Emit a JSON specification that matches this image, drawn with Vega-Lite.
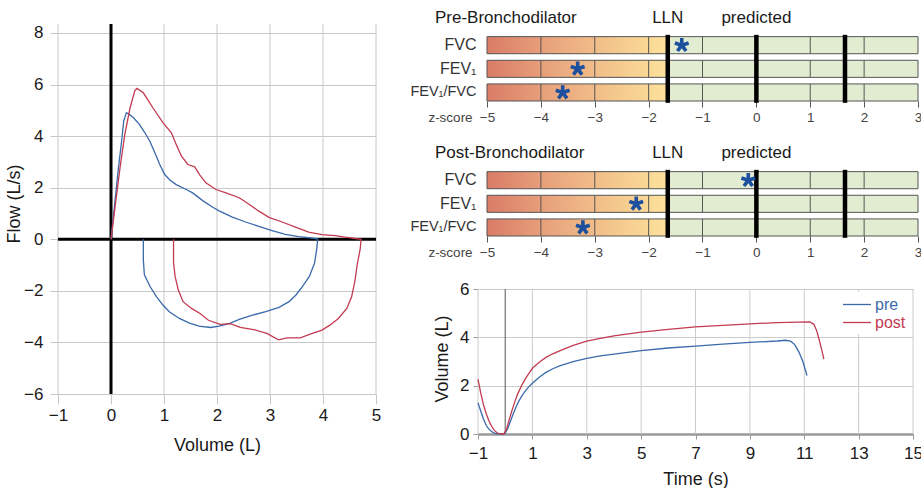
{
  "$schema": "https://vega.github.io/schema/vega-lite/v6.json",
  "padding": {"left": 5, "top": 9, "right": 0, "bottom": 0},
  "config": {"font": "Liberation Sans", "view": {"stroke": null}, "axis": {"labelFlush": false}},
  "bounds": "flush",
  "spacing": 102,
  "resolve": {"scale": {"color": "independent"}},
  "datasets": {
    "fvgrid": [{"v": -1}, {"v": 0}, {"v": 1}, {"v": 2}, {"v": 3}, {"v": 4}, {"v": 5}],
    "tgrid": [{"v": -1}, {"v": 1}, {"v": 3}, {"v": 5}, {"v": 7}, {"v": 9}, {"v": 11}, {"v": 13}, {"v": 15}],
    "zero": [{"v": 0}],
    "fv": [
      {"s": "pre", "i": 1, "vol": 0, "f": 0},
      {"s": "pre", "i": 2, "vol": 0.075, "f": 1.48},
      {"s": "pre", "i": 3, "vol": 0.14, "f": 2.77},
      {"s": "pre", "i": 4, "vol": 0.2, "f": 3.8},
      {"s": "pre", "i": 5, "vol": 0.24, "f": 4.58},
      {"s": "pre", "i": 6, "vol": 0.29, "f": 4.9},
      {"s": "pre", "i": 7, "vol": 0.33, "f": 4.87},
      {"s": "pre", "i": 8, "vol": 0.42, "f": 4.72},
      {"s": "pre", "i": 9, "vol": 0.54, "f": 4.45},
      {"s": "pre", "i": 10, "vol": 0.64, "f": 4.13},
      {"s": "pre", "i": 11, "vol": 0.73, "f": 3.81},
      {"s": "pre", "i": 12, "vol": 0.83, "f": 3.35},
      {"s": "pre", "i": 13, "vol": 0.92, "f": 2.9},
      {"s": "pre", "i": 14, "vol": 1.01, "f": 2.52},
      {"s": "pre", "i": 15, "vol": 1.11, "f": 2.3},
      {"s": "pre", "i": 16, "vol": 1.23, "f": 2.12},
      {"s": "pre", "i": 17, "vol": 1.42, "f": 1.93},
      {"s": "pre", "i": 18, "vol": 1.54, "f": 1.8},
      {"s": "pre", "i": 19, "vol": 1.73, "f": 1.5},
      {"s": "pre", "i": 20, "vol": 1.92, "f": 1.24},
      {"s": "pre", "i": 21, "vol": 2.04, "f": 1.1},
      {"s": "pre", "i": 22, "vol": 2.29, "f": 0.86},
      {"s": "pre", "i": 23, "vol": 2.54, "f": 0.67},
      {"s": "pre", "i": 24, "vol": 2.79, "f": 0.5},
      {"s": "pre", "i": 25, "vol": 3.04, "f": 0.34},
      {"s": "pre", "i": 26, "vol": 3.29, "f": 0.19},
      {"s": "pre", "i": 27, "vol": 3.54, "f": 0.1},
      {"s": "pre", "i": 28, "vol": 3.79, "f": 0.05},
      {"s": "pre", "i": 29, "vol": 3.89, "f": 0.02},
      {"s": "pre", "i": 30, "vol": 3.9, "f": 0},
      {"s": "pre", "i": 31, "vol": 3.88, "f": -0.4},
      {"s": "pre", "i": 32, "vol": 3.84, "f": -0.93},
      {"s": "pre", "i": 33, "vol": 3.74, "f": -1.45},
      {"s": "pre", "i": 34, "vol": 3.61, "f": -1.84},
      {"s": "pre", "i": 35, "vol": 3.49, "f": -2.16},
      {"s": "pre", "i": 36, "vol": 3.36, "f": -2.42},
      {"s": "pre", "i": 37, "vol": 3.17, "f": -2.64},
      {"s": "pre", "i": 38, "vol": 2.92, "f": -2.81},
      {"s": "pre", "i": 39, "vol": 2.67, "f": -2.94},
      {"s": "pre", "i": 40, "vol": 2.42, "f": -3.11},
      {"s": "pre", "i": 41, "vol": 2.23, "f": -3.27},
      {"s": "pre", "i": 42, "vol": 2.04, "f": -3.37},
      {"s": "pre", "i": 43, "vol": 1.88, "f": -3.42},
      {"s": "pre", "i": 44, "vol": 1.66, "f": -3.37},
      {"s": "pre", "i": 45, "vol": 1.47, "f": -3.24},
      {"s": "pre", "i": 46, "vol": 1.29, "f": -3.07},
      {"s": "pre", "i": 47, "vol": 1.1, "f": -2.81},
      {"s": "pre", "i": 48, "vol": 0.98, "f": -2.55},
      {"s": "pre", "i": 49, "vol": 0.86, "f": -2.23},
      {"s": "pre", "i": 50, "vol": 0.74, "f": -1.84},
      {"s": "pre", "i": 51, "vol": 0.63, "f": -1.38},
      {"s": "pre", "i": 52, "vol": 0.61, "f": -0.8},
      {"s": "pre", "i": 53, "vol": 0.61, "f": 0},
      {"s": "post", "i": 1, "vol": 0, "f": 0},
      {"s": "post", "i": 2, "vol": 0.075, "f": 1.22},
      {"s": "post", "i": 3, "vol": 0.17, "f": 2.77},
      {"s": "post", "i": 4, "vol": 0.26, "f": 4.06},
      {"s": "post", "i": 5, "vol": 0.36, "f": 5.1},
      {"s": "post", "i": 6, "vol": 0.45, "f": 5.77},
      {"s": "post", "i": 7, "vol": 0.49, "f": 5.85},
      {"s": "post", "i": 8, "vol": 0.61, "f": 5.68},
      {"s": "post", "i": 9, "vol": 0.79, "f": 5.1},
      {"s": "post", "i": 10, "vol": 0.98, "f": 4.52},
      {"s": "post", "i": 11, "vol": 1.14, "f": 4.13},
      {"s": "post", "i": 12, "vol": 1.23, "f": 3.68},
      {"s": "post", "i": 13, "vol": 1.33, "f": 3.22},
      {"s": "post", "i": 14, "vol": 1.45, "f": 2.9},
      {"s": "post", "i": 15, "vol": 1.58, "f": 2.81},
      {"s": "post", "i": 16, "vol": 1.67, "f": 2.51},
      {"s": "post", "i": 17, "vol": 1.79, "f": 2.19},
      {"s": "post", "i": 18, "vol": 1.98, "f": 1.93},
      {"s": "post", "i": 19, "vol": 2.17, "f": 1.8},
      {"s": "post", "i": 20, "vol": 2.42, "f": 1.61},
      {"s": "post", "i": 21, "vol": 2.61, "f": 1.35},
      {"s": "post", "i": 22, "vol": 2.79, "f": 1.09},
      {"s": "post", "i": 23, "vol": 2.98, "f": 0.85},
      {"s": "post", "i": 24, "vol": 3.23, "f": 0.67},
      {"s": "post", "i": 25, "vol": 3.48, "f": 0.47},
      {"s": "post", "i": 26, "vol": 3.73, "f": 0.28},
      {"s": "post", "i": 27, "vol": 3.98, "f": 0.18},
      {"s": "post", "i": 28, "vol": 4.23, "f": 0.14},
      {"s": "post", "i": 29, "vol": 4.42, "f": 0.08},
      {"s": "post", "i": 30, "vol": 4.61, "f": 0.03},
      {"s": "post", "i": 31, "vol": 4.72, "f": 0},
      {"s": "post", "i": 32, "vol": 4.7, "f": -0.4},
      {"s": "post", "i": 33, "vol": 4.65, "f": -0.93},
      {"s": "post", "i": 34, "vol": 4.6, "f": -1.64},
      {"s": "post", "i": 35, "vol": 4.54, "f": -2.23},
      {"s": "post", "i": 36, "vol": 4.45, "f": -2.68},
      {"s": "post", "i": 37, "vol": 4.29, "f": -3.07},
      {"s": "post", "i": 38, "vol": 4.13, "f": -3.33},
      {"s": "post", "i": 39, "vol": 3.98, "f": -3.52},
      {"s": "post", "i": 40, "vol": 3.76, "f": -3.68},
      {"s": "post", "i": 41, "vol": 3.57, "f": -3.82},
      {"s": "post", "i": 42, "vol": 3.32, "f": -3.82},
      {"s": "post", "i": 43, "vol": 3.16, "f": -3.9},
      {"s": "post", "i": 44, "vol": 2.94, "f": -3.65},
      {"s": "post", "i": 45, "vol": 2.69, "f": -3.5},
      {"s": "post", "i": 46, "vol": 2.44, "f": -3.42},
      {"s": "post", "i": 47, "vol": 2.25, "f": -3.27},
      {"s": "post", "i": 48, "vol": 2.06, "f": -3.3},
      {"s": "post", "i": 49, "vol": 1.84, "f": -3.14},
      {"s": "post", "i": 50, "vol": 1.68, "f": -2.88},
      {"s": "post", "i": 51, "vol": 1.52, "f": -2.68},
      {"s": "post", "i": 52, "vol": 1.36, "f": -2.42},
      {"s": "post", "i": 53, "vol": 1.27, "f": -1.97},
      {"s": "post", "i": 54, "vol": 1.21, "f": -1.45},
      {"s": "post", "i": 55, "vol": 1.18, "f": -0.9},
      {"s": "post", "i": 56, "vol": 1.18, "f": 0}
    ],
    "bars": [
      {"m": "FVC", "lo": -5, "mid": -1.645, "hi": 3},
      {"m": "FEV₁", "lo": -5, "mid": -1.645, "hi": 3},
      {"m": "FEV₁/FVC", "lo": -5, "mid": -1.645, "hi": 3}
    ],
    "zgrid": [
      {"m": "FVC", "z": -4}, {"m": "FVC", "z": -3}, {"m": "FVC", "z": -2}, {"m": "FVC", "z": -1}, {"m": "FVC", "z": 1}, {"m": "FVC", "z": 2},
      {"m": "FEV₁", "z": -4}, {"m": "FEV₁", "z": -3}, {"m": "FEV₁", "z": -2}, {"m": "FEV₁", "z": -1}, {"m": "FEV₁", "z": 1}, {"m": "FEV₁", "z": 2},
      {"m": "FEV₁/FVC", "z": -4}, {"m": "FEV₁/FVC", "z": -3}, {"m": "FEV₁/FVC", "z": -2}, {"m": "FEV₁/FVC", "z": -1}, {"m": "FEV₁/FVC", "z": 1}, {"m": "FEV₁/FVC", "z": 2}
    ],
    "thick": [{"z": -1.645}, {"z": 0}, {"z": 1.645}],
    "hdr": [{"lab": "LLN", "z": -1.645}, {"lab": "predicted", "z": 0}],
    "starsPre": [{"m": "FVC", "z": -1.385}, {"m": "FEV₁", "z": -3.317}, {"m": "FEV₁/FVC", "z": -3.595}],
    "starsPost": [{"m": "FVC", "z": -0.15}, {"m": "FEV₁", "z": -2.23}, {"m": "FEV₁/FVC", "z": -3.22}],
    "vt": [
      {"s": "pre", "i": 1, "t": -1, "v": 1.29},
      {"s": "pre", "i": 2, "t": -0.9, "v": 0.95},
      {"s": "pre", "i": 3, "t": -0.8, "v": 0.62},
      {"s": "pre", "i": 4, "t": -0.7, "v": 0.36},
      {"s": "pre", "i": 5, "t": -0.6, "v": 0.2},
      {"s": "pre", "i": 6, "t": -0.5, "v": 0.1},
      {"s": "pre", "i": 7, "t": -0.4, "v": 0.04},
      {"s": "pre", "i": 8, "t": -0.3, "v": 0.01},
      {"s": "pre", "i": 9, "t": -0.15, "v": 0},
      {"s": "pre", "i": 10, "t": 0, "v": 0.02},
      {"s": "pre", "i": 11, "t": 0.1, "v": 0.25},
      {"s": "pre", "i": 12, "t": 0.2, "v": 0.55},
      {"s": "pre", "i": 13, "t": 0.3, "v": 0.85},
      {"s": "pre", "i": 14, "t": 0.4, "v": 1.12},
      {"s": "pre", "i": 15, "t": 0.5, "v": 1.36},
      {"s": "pre", "i": 16, "t": 0.6, "v": 1.55},
      {"s": "pre", "i": 17, "t": 0.7, "v": 1.72},
      {"s": "pre", "i": 18, "t": 0.85, "v": 1.93},
      {"s": "pre", "i": 19, "t": 1.0, "v": 2.1},
      {"s": "pre", "i": 20, "t": 1.25, "v": 2.35},
      {"s": "pre", "i": 21, "t": 1.5, "v": 2.55},
      {"s": "pre", "i": 22, "t": 1.75, "v": 2.7},
      {"s": "pre", "i": 23, "t": 2.0, "v": 2.82},
      {"s": "pre", "i": 24, "t": 2.5, "v": 3.0},
      {"s": "pre", "i": 25, "t": 3.0, "v": 3.13},
      {"s": "pre", "i": 26, "t": 3.5, "v": 3.23},
      {"s": "pre", "i": 27, "t": 4.0, "v": 3.31},
      {"s": "pre", "i": 28, "t": 5.0, "v": 3.45},
      {"s": "pre", "i": 29, "t": 6.0, "v": 3.56},
      {"s": "pre", "i": 30, "t": 7.0, "v": 3.64},
      {"s": "pre", "i": 31, "t": 8.0, "v": 3.72},
      {"s": "pre", "i": 32, "t": 9.0, "v": 3.79},
      {"s": "pre", "i": 33, "t": 10.0, "v": 3.85},
      {"s": "pre", "i": 34, "t": 10.3, "v": 3.88},
      {"s": "pre", "i": 35, "t": 10.5, "v": 3.84},
      {"s": "pre", "i": 36, "t": 10.65, "v": 3.7},
      {"s": "pre", "i": 37, "t": 10.8, "v": 3.4},
      {"s": "pre", "i": 38, "t": 10.95, "v": 3.0},
      {"s": "pre", "i": 39, "t": 11.1, "v": 2.42},
      {"s": "post", "i": 1, "t": -1, "v": 2.26},
      {"s": "post", "i": 2, "t": -0.9, "v": 1.7},
      {"s": "post", "i": 3, "t": -0.8, "v": 1.22},
      {"s": "post", "i": 4, "t": -0.7, "v": 0.85},
      {"s": "post", "i": 5, "t": -0.6, "v": 0.55},
      {"s": "post", "i": 6, "t": -0.5, "v": 0.32},
      {"s": "post", "i": 7, "t": -0.4, "v": 0.15},
      {"s": "post", "i": 8, "t": -0.3, "v": 0.05},
      {"s": "post", "i": 9, "t": -0.2, "v": 0.01},
      {"s": "post", "i": 10, "t": -0.05, "v": 0},
      {"s": "post", "i": 11, "t": 0.05, "v": 0.2},
      {"s": "post", "i": 12, "t": 0.15, "v": 0.6},
      {"s": "post", "i": 13, "t": 0.25, "v": 0.98},
      {"s": "post", "i": 14, "t": 0.35, "v": 1.32},
      {"s": "post", "i": 15, "t": 0.45, "v": 1.63},
      {"s": "post", "i": 16, "t": 0.6, "v": 2.0},
      {"s": "post", "i": 17, "t": 0.75, "v": 2.3},
      {"s": "post", "i": 18, "t": 0.9, "v": 2.55},
      {"s": "post", "i": 19, "t": 1.0, "v": 2.72},
      {"s": "post", "i": 20, "t": 1.25, "v": 2.97},
      {"s": "post", "i": 21, "t": 1.5, "v": 3.17},
      {"s": "post", "i": 22, "t": 1.75, "v": 3.32},
      {"s": "post", "i": 23, "t": 2.0, "v": 3.44},
      {"s": "post", "i": 24, "t": 2.5, "v": 3.67},
      {"s": "post", "i": 25, "t": 3.0, "v": 3.84},
      {"s": "post", "i": 26, "t": 3.5, "v": 3.96},
      {"s": "post", "i": 27, "t": 4.0, "v": 4.06},
      {"s": "post", "i": 28, "t": 5.0, "v": 4.22},
      {"s": "post", "i": 29, "t": 6.0, "v": 4.33},
      {"s": "post", "i": 30, "t": 7.0, "v": 4.43},
      {"s": "post", "i": 31, "t": 8.0, "v": 4.5},
      {"s": "post", "i": 32, "t": 9.0, "v": 4.56},
      {"s": "post", "i": 33, "t": 10.0, "v": 4.61},
      {"s": "post", "i": 34, "t": 11.2, "v": 4.64},
      {"s": "post", "i": 35, "t": 11.35, "v": 4.55},
      {"s": "post", "i": 36, "t": 11.45, "v": 4.3},
      {"s": "post", "i": 37, "t": 11.55, "v": 3.9},
      {"s": "post", "i": 38, "t": 11.65, "v": 3.45},
      {"s": "post", "i": 39, "t": 11.72, "v": 3.1}
    ]
  },
  "hconcat": [
    {
      "width": 318,
      "height": 381,
      "layer": [
        {
          "data": {"name": "fvgrid"},
          "mark": {"type": "rule", "color": "#c8c8c8", "strokeWidth": 1},
          "encoding": {
            "x": {"field": "v", "type": "quantitative", "scale": {"domain": [-1, 5], "nice": false, "zero": false},
              "axis": {"values": [-1, 0, 1, 2, 3, 4, 5], "title": "Volume (L)", "grid": false, "domain": false, "tickColor": "#c8c8c8", "tickSize": 10, "labelPadding": 3, "labelFontSize": 17, "labelColor": "#1a1a1a", "titleFontSize": 18, "titleFontWeight": "normal", "titleColor": "#1a1a1a", "titlePadding": 13}},
            "y": {"datum": -6, "type": "quantitative", "scale": {"domain": [-6, 8.775], "nice": false, "zero": false},
              "axis": {"values": [-6, -4, -2, 0, 2, 4, 6, 8], "title": "Flow (L/s)", "grid": true, "gridColor": "#c8c8c8", "domain": false, "tickColor": "#c8c8c8", "tickSize": 8, "labelPadding": 7, "labelFontSize": 17, "labelColor": "#1a1a1a", "titleFontSize": 18, "titleFontWeight": "normal", "titleColor": "#1a1a1a", "titlePadding": 0}},
            "y2": {"datum": 8.35}
          }
        },
        {
          "data": {"name": "zero"},
          "mark": {"type": "rule", "color": "black", "strokeWidth": 3},
          "encoding": {"y": {"field": "v", "type": "quantitative"}}
        },
        {
          "data": {"name": "zero"},
          "mark": {"type": "rule", "color": "black", "strokeWidth": 3},
          "encoding": {"x": {"field": "v", "type": "quantitative"}, "y": {"datum": -6, "type": "quantitative"}, "y2": {"datum": 8.35}}
        },
        {
          "data": {"name": "fv"},
          "transform": [{"filter": "datum.s === 'pre'"}],
          "mark": {"type": "line", "stroke": "#3a6aab", "strokeWidth": 1.3},
          "encoding": {"x": {"field": "vol", "type": "quantitative"}, "y": {"field": "f", "type": "quantitative"}, "order": {"field": "i"}}
        },
        {
          "data": {"name": "fv"},
          "transform": [{"filter": "datum.s === 'post'"}],
          "mark": {"type": "line", "stroke": "#c23b50", "strokeWidth": 1.3},
          "encoding": {"x": {"field": "vol", "type": "quantitative"}, "y": {"field": "f", "type": "quantitative"}, "order": {"field": "i"}}
        }
      ]
    },
    {
      "bounds": "flush",
      "spacing": 47,
      "resolve": {"scale": {"color": "independent"}},
      "vconcat": [
        {
          "width": 440,
          "height": 88,
          "layer": [
            {
              "data": {"name": "bars"},
              "mark": {"type": "rect", "fill": {"gradient": "linear", "x1": 0, "x2": 1, "y1": 0, "y2": 0, "stops": [{"offset": 0, "color": "#d97c67"}, {"offset": 0.35, "color": "#e9a47d"}, {"offset": 0.75, "color": "#f5cc8f"}, {"offset": 1, "color": "#fde29c"}]}},
              "encoding": {
                "x": {"field": "lo", "type": "quantitative", "scale": {"domain": [-5.167, 3], "nice": false, "zero": false},
                  "axis": {"values": [-5, -4, -3, -2, -1, 0, 1, 2, 3], "domain": false, "grid": false, "tickSize": 6, "tickColor": "#555", "labelFontSize": 13.5, "labelColor": "#444", "labelPadding": 3, "title": "z-score", "titleX": -28, "titleY": 9, "titleAlign": "center", "titleBaseline": "top", "titleFontSize": 13.5, "titleFontWeight": "normal", "titleColor": "#444"}},
                "x2": {"field": "mid"},
                "y": {"field": "m", "type": "nominal", "scale": {"domain": ["hdr", "FVC", "FEV₁", "FEV₁/FVC"], "paddingInner": 0.277, "paddingOuter": 0},
                  "axis": {"title": null, "domain": false, "ticks": false, "labelPadding": 2, "labelFontSize": {"condition": {"test": "datum.value === 'FEV₁/FVC'", "value": 14.5}, "value": 16}, "labelColor": "#333", "labelExpr": "datum.value === 'hdr' ? '' : datum.value"}}
              }
            },
            {
              "data": {"name": "bars"},
              "mark": {"type": "rect", "fill": "#e2ecd0"},
              "encoding": {"x": {"field": "mid", "type": "quantitative"}, "x2": {"field": "hi"}, "y": {"field": "m", "type": "nominal"}}
            },
            {
              "data": {"name": "zgrid"},
              "mark": {"type": "tick", "color": "#555", "thickness": 1, "size": 17, "opacity": 1},
              "encoding": {"x": {"field": "z", "type": "quantitative"}, "y": {"field": "m", "type": "nominal"}}
            },
            {
              "data": {"name": "bars"},
              "mark": {"type": "rect", "fillOpacity": 0, "stroke": "#555", "strokeWidth": 1},
              "encoding": {"x": {"field": "lo", "type": "quantitative"}, "x2": {"field": "hi"}, "y": {"field": "m", "type": "nominal"}}
            },
            {
              "data": {"name": "thick"},
              "mark": {"type": "tick", "color": "black", "thickness": 4.5, "size": 68, "opacity": 1},
              "encoding": {"x": {"field": "z", "type": "quantitative"}, "y": {"datum": "FEV₁", "type": "nominal"}}
            },
            {
              "data": {"name": "starsPre"},
              "mark": {"type": "point", "shape": "M0,0L0,-1M0,0L0.951,-0.309M0,0L0.588,0.809M0,0L-0.588,0.809M0,0L-0.951,-0.309", "size": 210, "filled": false, "stroke": "#1c4f9e", "strokeWidth": 3.6, "opacity": 1},
              "encoding": {"x": {"field": "z", "type": "quantitative"}, "y": {"field": "m", "type": "nominal"}}
            },
            {
              "data": {"name": "hdr"},
              "mark": {"type": "text", "fontSize": 17, "color": "#1a1a1a", "align": "center", "baseline": "middle", "dy": -3.5},
              "encoding": {"x": {"field": "z", "type": "quantitative"}, "y": {"datum": "hdr", "type": "nominal"}, "text": {"field": "lab"}}
            },
            {
              "data": {"values": [{"lab": "Pre-Bronchodilator"}]},
              "mark": {"type": "text", "fontSize": 17, "color": "#1a1a1a", "align": "left", "baseline": "middle", "dy": -3.5, "dx": -52},
              "encoding": {"x": {"datum": -5, "type": "quantitative"}, "y": {"datum": "hdr", "type": "nominal"}, "text": {"field": "lab"}}
            }
          ]
        },
        {
          "width": 440,
          "height": 88,
          "layer": [
            {
              "data": {"name": "bars"},
              "mark": {"type": "rect", "fill": {"gradient": "linear", "x1": 0, "x2": 1, "y1": 0, "y2": 0, "stops": [{"offset": 0, "color": "#d97c67"}, {"offset": 0.35, "color": "#e9a47d"}, {"offset": 0.75, "color": "#f5cc8f"}, {"offset": 1, "color": "#fde29c"}]}},
              "encoding": {
                "x": {"field": "lo", "type": "quantitative", "scale": {"domain": [-5.167, 3], "nice": false, "zero": false},
                  "axis": {"values": [-5, -4, -3, -2, -1, 0, 1, 2, 3], "domain": false, "grid": false, "tickSize": 6, "tickColor": "#555", "labelFontSize": 13.5, "labelColor": "#444", "labelPadding": 3, "title": "z-score", "titleX": -28, "titleY": 9, "titleAlign": "center", "titleBaseline": "top", "titleFontSize": 13.5, "titleFontWeight": "normal", "titleColor": "#444"}},
                "x2": {"field": "mid"},
                "y": {"field": "m", "type": "nominal", "scale": {"domain": ["hdr", "FVC", "FEV₁", "FEV₁/FVC"], "paddingInner": 0.277, "paddingOuter": 0},
                  "axis": {"title": null, "domain": false, "ticks": false, "labelPadding": 2, "labelFontSize": {"condition": {"test": "datum.value === 'FEV₁/FVC'", "value": 14.5}, "value": 16}, "labelColor": "#333", "labelExpr": "datum.value === 'hdr' ? '' : datum.value"}}
              }
            },
            {
              "data": {"name": "bars"},
              "mark": {"type": "rect", "fill": "#e2ecd0"},
              "encoding": {"x": {"field": "mid", "type": "quantitative"}, "x2": {"field": "hi"}, "y": {"field": "m", "type": "nominal"}}
            },
            {
              "data": {"name": "zgrid"},
              "mark": {"type": "tick", "color": "#555", "thickness": 1, "size": 17, "opacity": 1},
              "encoding": {"x": {"field": "z", "type": "quantitative"}, "y": {"field": "m", "type": "nominal"}}
            },
            {
              "data": {"name": "bars"},
              "mark": {"type": "rect", "fillOpacity": 0, "stroke": "#555", "strokeWidth": 1},
              "encoding": {"x": {"field": "lo", "type": "quantitative"}, "x2": {"field": "hi"}, "y": {"field": "m", "type": "nominal"}}
            },
            {
              "data": {"name": "thick"},
              "mark": {"type": "tick", "color": "black", "thickness": 4.5, "size": 68, "opacity": 1},
              "encoding": {"x": {"field": "z", "type": "quantitative"}, "y": {"datum": "FEV₁", "type": "nominal"}}
            },
            {
              "data": {"name": "starsPost"},
              "mark": {"type": "point", "shape": "M0,0L0,-1M0,0L0.951,-0.309M0,0L0.588,0.809M0,0L-0.588,0.809M0,0L-0.951,-0.309", "size": 210, "filled": false, "stroke": "#1c4f9e", "strokeWidth": 3.6, "opacity": 1},
              "encoding": {"x": {"field": "z", "type": "quantitative"}, "y": {"field": "m", "type": "nominal"}}
            },
            {
              "data": {"name": "hdr"},
              "mark": {"type": "text", "fontSize": 17, "color": "#1a1a1a", "align": "center", "baseline": "middle", "dy": -3.5},
              "encoding": {"x": {"field": "z", "type": "quantitative"}, "y": {"datum": "hdr", "type": "nominal"}, "text": {"field": "lab"}}
            },
            {
              "data": {"values": [{"lab": "Post-Bronchodilator"}]},
              "mark": {"type": "text", "fontSize": 17, "color": "#1a1a1a", "align": "left", "baseline": "middle", "dy": -3.5, "dx": -52},
              "encoding": {"x": {"datum": -5, "type": "quantitative"}, "y": {"datum": "hdr", "type": "nominal"}, "text": {"field": "lab"}}
            }
          ]
        },
        {
          "width": 435,
          "height": 151,
          "layer": [
            {
              "data": {"name": "tgrid"},
              "mark": {"type": "rule", "color": "#cccccc", "strokeWidth": 1},
              "encoding": {
                "x": {"field": "v", "type": "quantitative", "scale": {"domain": [-1, 15], "nice": false, "zero": false},
                  "axis": {"values": [-1, 1, 3, 5, 7, 9, 11, 13, 15], "title": "Time (s)", "grid": false, "domainColor": "#999", "domainWidth": 2.5, "tickColor": "#999", "tickSize": 5, "labelFontSize": 17, "labelColor": "#1a1a1a", "labelPadding": 6, "titleFontSize": 18, "titleFontWeight": "normal", "titleColor": "#1a1a1a", "titlePadding": 9}},
                "y": {"datum": 0, "type": "quantitative", "scale": {"domain": [0, 6.25], "nice": false, "zero": false},
                  "axis": {"values": [0, 1, 2, 3, 4, 5, 6], "labelExpr": "datum.value % 2 === 0 ? datum.label : ''", "title": "Volume (L)", "grid": true, "gridColor": "#cccccc", "domain": false, "tickColor": "#999", "tickSize": 5, "labelFontSize": 17, "labelColor": "#1a1a1a", "labelPadding": 4, "titleFontSize": 18, "titleFontWeight": "normal", "titleColor": "#1a1a1a", "titlePadding": 8}},
                "y2": {"datum": 6}
              }
            },
            {
              "data": {"name": "zero"},
              "mark": {"type": "rule", "color": "#555", "strokeWidth": 1},
              "encoding": {"x": {"field": "v", "type": "quantitative"}, "y": {"datum": 0, "type": "quantitative"}, "y2": {"datum": 6}}
            },
            {
              "data": {"name": "vt"},
              "mark": {"type": "line", "strokeWidth": 1.3},
              "encoding": {
                "x": {"field": "t", "type": "quantitative"},
                "y": {"field": "v", "type": "quantitative"},
                "color": {"field": "s", "type": "nominal", "scale": {"domain": ["pre", "post"], "range": ["#3a6aab", "#c23b50"]},
                  "legend": {"title": null, "orient": "none", "legendX": 356, "legendY": 9, "symbolType": "M-1.65,0L1.65,0", "symbolSize": 289, "symbolStrokeWidth": 1.3, "symbolOffset": 10.5, "labelFontSize": 16, "labelOffset": 8.5, "fillColor": "white", "padding": 3, "rowPadding": 0,
                    "encode": {"labels": {"update": {"fill": {"signal": "datum.value === 'pre' ? '#3a6aab' : '#c23b50'"}}}}}},
                "order": {"field": "i"}
              }
            }
          ]
        }
      ]
    }
  ]
}
